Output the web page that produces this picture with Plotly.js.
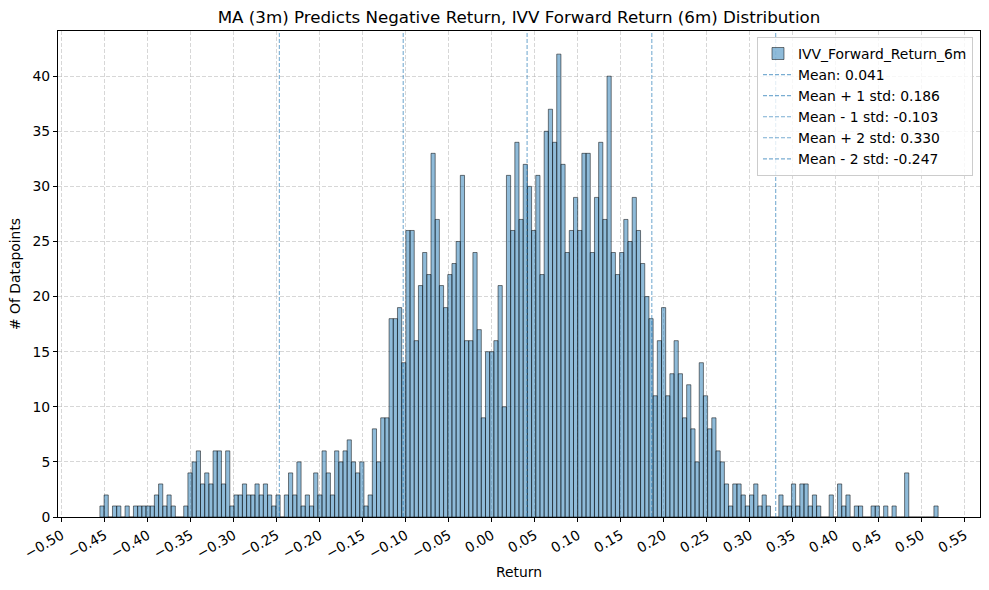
<!DOCTYPE html>
<html>
<head>
<meta charset="utf-8">
<script src="https://cdn.plot.ly/plotly-3.0.1.min.js"></script>
<style>html,body{margin:0;padding:0;background:#fff;}#chart{width:989px;height:590px;}</style>
</head>
<body>
<div id="chart"></div>
<script>
// Histogram bin layout (values of the return axis)
const binStart = -0.45558;
const binWidth = 0.004872;

// Counts per bin (200 bins)
const counts = [
  1,2,0,1,1,0,1,0,1,1, 1,1,1,2,3,1,2,1,0,0,
  1,4,5,6,3,4,3,6,6,3, 6,1,2,2,3,2,2,3,2,3,
  2,1,2,0,2,4,2,5,1,2, 1,4,2,6,4,2,6,5,6,7,
  5,4,5,1,2,8,5,9,9,18, 18,19,14,26,26,16,21,24,22,33,
  27,21,19,22,23,25,31,16,16,24, 17,9,15,15,16,21,10,31,26,34,
  27,32,30,26,31,22,35,37,34,42, 32,24,26,29,26,33,33,24,29,34,
  27,40,24,22,24,27,25,29,26,23, 20,18,11,16,19,11,13,16,13,9,
  12,8,5,14,11,8,9,6,5,3, 1,3,3,2,1,2,3,1,2,1,
  0,0,2,1,1,3,1,3,3,1, 2,1,0,0,2,0,3,1,2,0,
  1,1,0,0,1,1,0,1,0,1, 0,0,4,0,0,0,0,0,0,1
];

const seriesName = "IVV_Forward_Return_6m";
const lineValues = [0.041, 0.186, -0.103, 0.330, -0.247];
const lineLabels = ["Mean: 0.041", "Mean + 1 std: 0.186", "Mean - 1 std: -0.103", "Mean + 2 std: 0.330", "Mean - 2 std: -0.247"];

const xTicks = [-0.50,-0.45,-0.40,-0.35,-0.30,-0.25,-0.20,-0.15,-0.10,-0.05,0.00,0.05,0.10,0.15,0.20,0.25,0.30,0.35,0.40,0.45,0.50,0.55];
const yTicks = [0,5,10,15,20,25,30,35,40];

const xRange = [-0.5043, 0.5675];
const yMax = 44.1;

const centers = counts.map((_, i) => binStart + (i + 0.5) * binWidth);

const traces = [{
  type: 'bar',
  x: centers,
  y: counts,
  width: binWidth,
  name: seriesName,
  marker: {color: 'rgba(31,119,180,0.5)', line: {color: 'rgba(0,0,0,0.5)', width: 1}},
  hoverinfo: 'x+y'
}];

lineValues.forEach((v, k) => {
  traces.push({
    type: 'scatter',
    mode: 'lines',
    x: [v, v],
    y: [0, yMax],
    name: lineLabels[k],
    line: {color: 'rgba(31,119,180,0.6)', width: 1.1, dash: '4px,2px'},
    hoverinfo: 'name'
  });
});

const font = {family: 'DejaVu Sans, sans-serif', size: 13.9, color: '#000'};

const layout = {
  width: 989, height: 590,
  margin: {l: 58, r: 9, t: 31, b: 73},
  paper_bgcolor: '#fff', plot_bgcolor: '#fff',
  font: font,
  bargap: 0,
  showlegend: true,
  title: {
    text: 'MA (3m) Predicts Negative Return, IVV Forward Return (6m) Distribution',
    font: {family: 'DejaVu Sans, sans-serif', size: 16.7, color: '#000'},
    x: 0.5, xref: 'paper', xanchor: 'center',
    y: 1 - 17/590, yref: 'container', yanchor: 'middle'
  },
  xaxis: {
    range: xRange,
    tickvals: xTicks,
    ticktext: xTicks.map(v => (v < 0 ? '\u2212' : '') + Math.abs(v).toFixed(2)),
    tickangle: -30,
    ticks: 'outside', ticklen: 4, tickwidth: 1, tickcolor: '#000',
    showline: true, linecolor: '#000', linewidth: 1, mirror: true,
    showgrid: true, gridcolor: 'rgba(176,176,176,0.5)', griddash: '4px,2px', gridwidth: 1,
    zeroline: false,
    title: {text: 'Return', font: font, standoff: 6},
    tickfont: font
  },
  yaxis: {
    range: [0, yMax],
    tickvals: yTicks,
    ticks: 'outside', ticklen: 4, tickwidth: 1, tickcolor: '#000',
    showline: true, linecolor: '#000', linewidth: 1, mirror: true,
    showgrid: true, gridcolor: 'rgba(176,176,176,0.5)', griddash: '4px,2px', gridwidth: 1,
    zeroline: false,
    title: {text: '# Of Datapoints', font: font, standoff: 8},
    tickfont: font
  },
  legend: {
    x: 0.9924, xanchor: 'right', y: 0.9877, yanchor: 'top',
    bgcolor: 'rgba(255,255,255,0.8)', bordercolor: '#cccccc', borderwidth: 1,
    font: font, tracegroupgap: 0, itemwidth: 30
  }
};

Plotly.newPlot('chart', traces, layout, {staticPlot: true});
</script>
</body>
</html>
